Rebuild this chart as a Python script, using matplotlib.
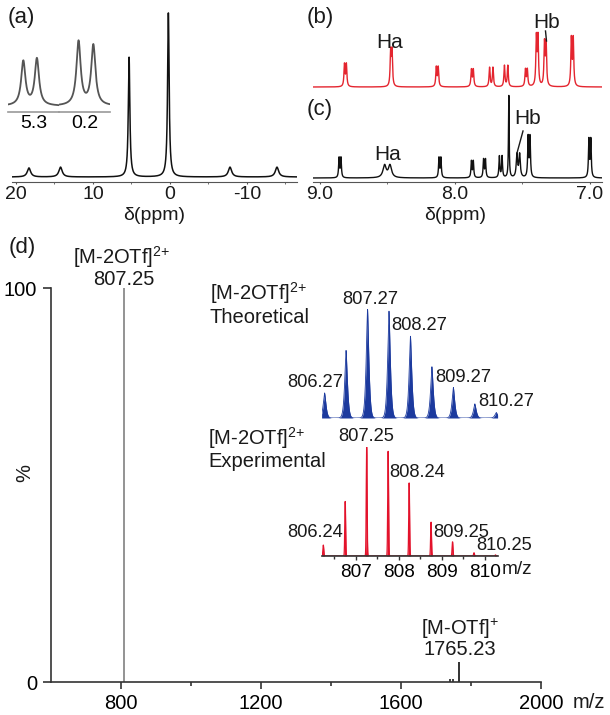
#! /usr/bin/env python3
# -*- coding: utf-8 -*-

import numpy as np
import matplotlib
matplotlib.use("Agg")
import matplotlib.pyplot as plt
from matplotlib.lines import Line2D

## Data

# (a) wide sweep 1H NMR
a_shift = [18.3, 14.2, 5.3, 0.2, -7.8, -13.9]
a_height = [0.055, 0.06, 0.73, 1.0, 0.06, 0.06]
a_width = [0.26, 0.26, 0.12, 0.12, 0.26, 0.26]
a_ticks = [20, 10, 0, -10]

# (a) inset, the two doublets
ins1_shift = [5.36, 5.28]
ins1_height = [0.69, 0.73]
ins2_shift = [0.235, 0.148]
ins2_height = [1.0, 0.94]

# (b) red spectrum, (c) black spectrum
b_shift = [8.81, 8.47, 8.13, 7.87, 7.73, 7.62, 7.47, 7.39, 7.33, 7.13]
b_height = [0.46, 0.71, 0.40, 0.35, 0.40, 0.44, 0.35, 1.0, 0.88, 0.98]
b_split = [0.014, 0.010, 0.014, 0.014, 0.025, 0.025, 0.014, 0.012, 0.012, 0.014]

c_shift = [8.85, 8.50, 8.11, 7.87, 7.78, 7.66, 7.60, 7.53, 7.45, 7.00]
c_height = [0.24, 0.15, 0.24, 0.20, 0.22, 0.26, 1.0, 0.28, 0.49, 0.46]
c_split = [0.014, 0.04, 0.014, 0.014, 0.014, 0.02, 0.0, 0.02, 0.014, 0.014]
c_width = [0.004, 0.014, 0.004, 0.004, 0.004, 0.004, 0.003, 0.006, 0.004, 0.004]
bc_ticks = [9.0, 8.0, 7.0]

# (d) ESI-MS
ms_mz = [807.25, 1740.0, 1748.0, 1765.23]
ms_int = [100, 0.8, 0.8, 5.2]

theo_mz = [806.27, 806.77, 807.27, 807.77, 808.27, 808.77, 809.27, 809.77, 810.27]
theo_int = [23, 62, 100, 98, 75, 47, 28, 13, 5]
exp_mz = [806.24, 806.75, 807.25, 807.75, 808.24, 808.75, 809.25, 809.75, 810.25]
exp_int = [10, 50, 100, 96, 67, 31, 13, 3, 1]
theo_labels = [806.27, 807.27, 808.27, 809.27, 810.27]
exp_labels = [806.24, 807.25, 808.24, 809.25, 810.25]


## Helpers

W, H = 610, 715
FS = 14.5
FS_PK = 13.2
TXT = "#1a1a1a"
ION2 = "[M-2OTf]$^{2{+}}$"
ION1 = "[M-OTf]$^{{+}}$"


def lorentz(x, c, h, w):
    return h * w ** 2 / ((x - c) ** 2 + w ** 2)


def nmr(x, shifts, heights, splits, widths):
    y = np.zeros_like(x)
    for c, h, s, w in zip(shifts, heights, splits, widths):
        lines = [c - s / 2, c + s / 2] if s > 0 else [c]
        for cc in lines:
            y += lorentz(x, cc, h, w)
    return y


def spikes(x, pos, inten, w, p):
    y = np.zeros_like(x)
    for c, h in zip(pos, inten):
        y += h * np.exp(-(np.abs(x - c) / w) ** p)
    return y


def box(fig, x0, y0, x1, y1):
    # pixel box (y from the top) -> axes
    ax = fig.add_axes([x0 / W, 1 - y1 / H, (x1 - x0) / W, (y1 - y0) / H])
    ax.patch.set_alpha(0)
    return ax


def bare(ax, keep_bottom=False):
    for s in ["top", "left", "right"]:
        ax.spines[s].set_visible(False)
    if not keep_bottom:
        ax.spines["bottom"].set_visible(False)
        ax.set_xticks([])
    ax.set_yticks([])


def main():
    plt.rcParams["font.family"] = ["Liberation Sans", "DejaVu Sans"]
    plt.rcParams["mathtext.default"] = "regular"
    plt.rcParams["text.color"] = TXT
    plt.rcParams["axes.unicode_minus"] = False

    fig = plt.figure(figsize=(W / 100, H / 100), dpi=100)

    def ftext(x, y, s, **kw):
        kw.setdefault("fontsize", FS)
        fig.text(x / W, 1 - y / H, s, **kw)

    def fline(xs, ys, **kw):
        fig.add_artist(Line2D([v / W for v in xs], [1 - v / H for v in ys],
                              transform=fig.transFigure, **kw))

    ## (a)
    ax = box(fig, 12, 5, 297, 182)
    x = np.linspace(20.5, -16.5, 7401)
    ax.plot(x, nmr(x, a_shift, a_height, [0] * len(a_shift), a_width),
            color="#111111", lw=1.1)
    ax.set_xlim(20.5, -16.5)
    ax.set_ylim(-5 / 164, 172 / 164)
    bare(ax, keep_bottom=True)
    ax.spines["bottom"].set_color("#555555")
    ax.set_xticks(a_ticks)
    ax.set_xticks([15, 5, -5, -15], minor=True)
    ax.tick_params(axis="x", which="both", length=1.5, pad=1.5,
                   labelsize=14, colors="#555555", labelcolor=TXT)
    ftext(154, 216, "δ(ppm)", ha="center", va="center", fontsize=14)
    ftext(21, 17, "(a)", ha="center", va="center", fontsize=16)

    # inset of (a)
    for (x0, x1, lims, pos, hts, tick) in [
            (8, 59, (5.45, 5.15), ins1_shift, ins1_height, 5.3),
            (59, 110, (0.35, 0.05), ins2_shift, ins2_height, 0.2)]:
        ai = box(fig, x0, 38, x1, 112)
        xi = np.linspace(lims[0], lims[1], 600)
        ai.plot(xi, nmr(xi, pos, hts, [0, 0], [0.015, 0.015]),
                color="#555555", lw=1.3)
        ai.set_xlim(*lims)
        ai.set_ylim(-6 / 64, 68 / 64)
        bare(ai, keep_bottom=True)
        ai.spines["bottom"].set_color("#999999")
        ai.spines["bottom"].set_linewidth(1.2)
        ai.set_xticks([tick])
        ai.set_xticklabels([f"{tick:.1f}"])
        ai.tick_params(axis="x", length=0, pad=2.5, labelsize=14)

    ## (b)
    xb = np.linspace(9.05, 6.91, 6000)
    axb = box(fig, 313, 5, 602, 92)
    axb.plot(xb, nmr(xb, b_shift, b_height, b_split, [0.0045] * len(b_shift)),
             color="#e4252f", lw=1.0)
    axb.set_xlim(9.05, 6.91)
    axb.set_ylim(-5 / 48, 82 / 48)
    bare(axb)
    ftext(320, 17, "(b)", ha="center", va="center", fontsize=16)
    ftext(390, 42, "Ha", ha="center", va="center", fontsize=15)
    ftext(547, 22, "Hb", ha="center", va="center", fontsize=15)
    fline([545.5, 546.5], [31, 41], color=TXT, lw=1.0)

    ## (c)
    axc = box(fig, 313, 92, 602, 182)
    axc.plot(xb, nmr(xb, c_shift, c_height, c_split, c_width),
             color="#111111", lw=1.0)
    axc.set_xlim(9.05, 6.91)
    axc.set_ylim(-4 / 82, 86 / 82)
    bare(axc, keep_bottom=True)
    axc.spines["bottom"].set_color("#555555")
    axc.set_xticks(bc_ticks)
    axc.set_xticklabels([f"{t:.1f}" for t in bc_ticks])
    axc.set_xticks([8.5, 7.5], minor=True)
    axc.tick_params(axis="x", which="both", length=1.5, pad=1.5,
                    labelsize=14, colors="#555555", labelcolor=TXT)
    ftext(455, 216, "δ(ppm)", ha="center", va="center", fontsize=14)
    ftext(320, 109, "(c)", ha="center", va="center", fontsize=16)
    ftext(388, 155, "Ha", ha="center", va="center", fontsize=15)
    ftext(528, 118, "Hb", ha="center", va="center", fontsize=15)
    fline([523, 517], [131, 153], color=TXT, lw=1.0)

    ## (d)
    axd = box(fig, 51, 288, 541, 682)
    axd.vlines(ms_mz, 0, ms_int, colors=["#8a8a8a", "#333333", "#333333", "#222222"],
               lw=1.3)
    axd.set_xlim(600, 2000)
    axd.set_ylim(0, 100)
    for s in ["top", "right"]:
        axd.spines[s].set_visible(False)
    for s in ["left", "bottom"]:
        axd.spines[s].set_color("#333333")
        axd.spines[s].set_linewidth(1.2)
    axd.set_xticks([800, 1200, 1600, 2000])
    axd.set_xticks([1000, 1400, 1800], minor=True)
    axd.set_yticks([0, 100])
    axd.tick_params(axis="x", which="major", length=5, width=1.2, pad=3.5,
                    labelsize=FS, color="#333333")
    axd.tick_params(axis="x", which="minor", length=3, width=1.2, color="#333333")
    axd.tick_params(axis="y", length=6, width=1.2, pad=4, labelsize=FS,
                    color="#333333")
    ftext(573, 703, "m/z", ha="left", va="center")
    ftext(25, 473, "%", ha="center", va="center", rotation=90)
    ftext(22, 248, "(d)", ha="center", va="center", fontsize=16)

    ftext(122, 264, ION2, ha="center", va="baseline")
    ftext(124, 285, f"{ms_mz[0]:.2f}", ha="center", va="baseline")
    ftext(460, 635, ION1, ha="center", va="baseline")
    ftext(460, 655, f"{ms_mz[-1]:.2f}", ha="center", va="baseline")

    ftext(210, 300, ION2, ha="left", va="baseline")
    ftext(210, 323, "Theoretical", ha="left", va="baseline")
    ftext(208, 445, ION2, ha="left", va="baseline")
    ftext(208, 467, "Experimental", ha="left", va="baseline")

    # isotope patterns
    xi = np.linspace(806.2, 810.3, 4101)
    lim = (806.2, 810.3)

    axt = box(fig, 321.6, 309, 497.6, 418)
    yt = spikes(xi, theo_mz, theo_int, 0.045, 1.4)
    axt.fill_between(xi, 0, yt, color="#1c3a9e", lw=0)
    axt.plot(xi, yt, color="#1c3a9e", lw=0.6)
    axt.set_xlim(*lim)
    axt.set_ylim(0, 100)
    bare(axt)

    axe = box(fig, 321.6, 447, 497.6, 556)
    ye = spikes(xi, exp_mz, exp_int, 0.014, 2)
    axe.fill_between(xi, 0, ye, color="#e3122b", lw=0)
    axe.plot(xi, ye, color="#e3122b", lw=0.9)
    axe.set_xlim(*lim)
    axe.set_ylim(0, 100)
    bare(axe, keep_bottom=True)
    axe.spines["bottom"].set_color("#333333")
    axe.spines["bottom"].set_linewidth(1.2)
    axe.set_xticks([807, 808, 809, 810])
    axe.set_xticks([806.5, 807.5, 808.5, 809.5], minor=True)
    axe.tick_params(axis="x", which="major", length=3, width=1, pad=3,
                    labelsize=FS_PK + 0.5, color="#333333")
    axe.tick_params(axis="x", which="minor", length=2, width=1, color="#333333")
    ftext(502, 570, "m/z", ha="left", va="center", fontsize=FS_PK + 0.5)

    # peak labels, offsets in points
    theo_off = [(-6.5, 7.5), (2, 7), (6, 7.5), (7, 7.5), (7, 8)]
    for m, off in zip(theo_labels, theo_off):
        h = theo_int[theo_mz.index(m)]
        axt.annotate(f"{m:.2f}", (m, h), xytext=off, textcoords="offset points",
                     ha="center", va="center", fontsize=FS_PK, annotation_clip=False)
    exp_off = [(-6, 9), (0, 7.5), (6, 7.5), (6.5, 7), (6.5, 7)]
    for m, off in zip(exp_labels, exp_off):
        h = exp_int[exp_mz.index(m)]
        axe.annotate(f"{m:.2f}", (m, h), xytext=off, textcoords="offset points",
                     ha="center", va="center", fontsize=FS_PK, annotation_clip=False)

    fig.savefig("out.png", dpi=100)


## Run

if __name__ == "__main__":
    main()
